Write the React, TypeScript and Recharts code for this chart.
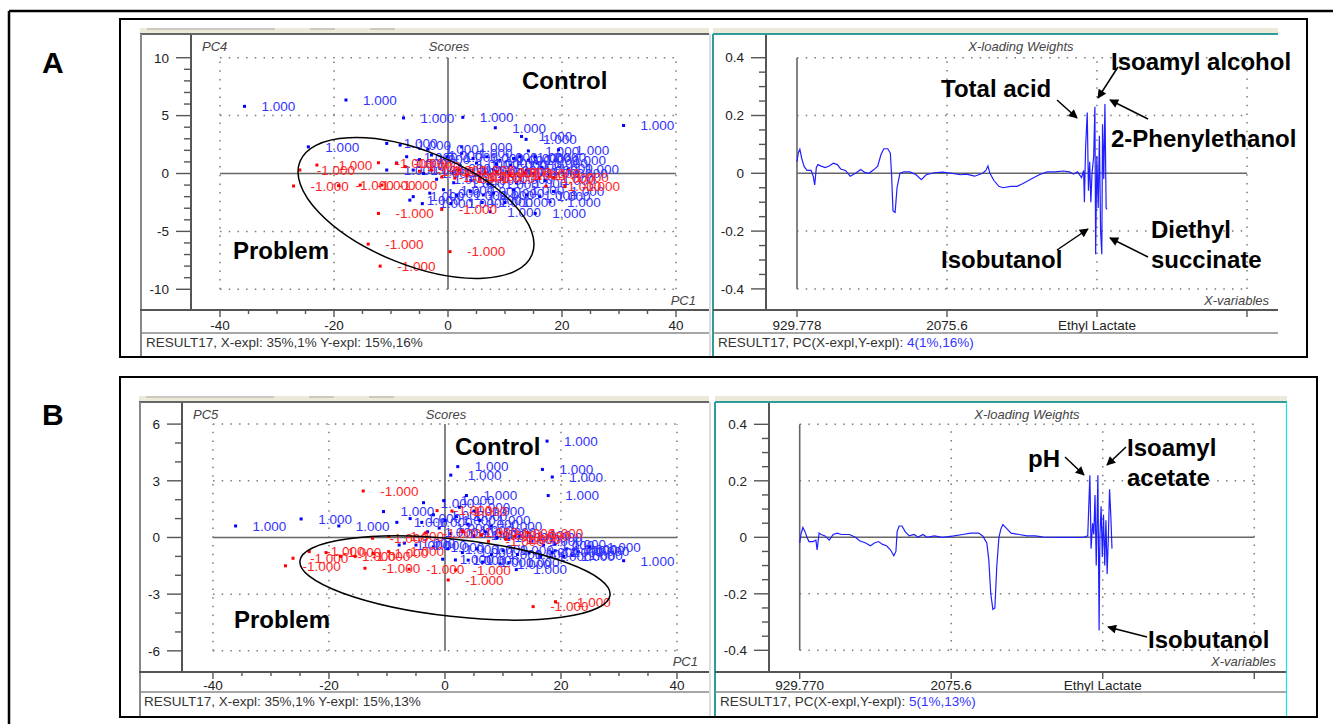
import React from 'react'
import { ScatterChart, Scatter, LineChart, Line, XAxis, YAxis, ReferenceLine } from 'recharts'

const FONT = '"Liberation Sans", Arial, Helvetica, sans-serif'

// --- scores A (PC1 vs PC4) ---
const scoresAControl = [
  { x: -35.7, y: 5.8 }, { x: -17.9, y: 6.35 }, { x: -7.8, y: 4.8 }, { x: 2.6, y: 4.85 }, { x: 8.3, y: 3.95 },
  { x: 12.9, y: 3.2 }, { x: 13.7, y: 2.95 }, { x: 30.8, y: 4.15 }, { x: -24.5, y: 2.3 }, { x: -10.75, y: 2.6 },
  { x: -8.4, y: 2.45 }, { x: 2.4, y: 2.3 }, { x: 14.1, y: 1.95 }, { x: 19.4, y: 2.05 }, { x: 18.8, y: 1.15 },
  { x: 21.1, y: 0.35 }, { x: 15.6, y: 0.9 }, { x: 19.1, y: 0.0 }, { x: 7.4, y: -3.3 }, { x: 15.3, y: -3.45 },
  { x: 17.9, y: -2.45 }, { x: -10.75, y: 0.3 }, { x: -9.0, y: 0.9 }, { x: -7.25, y: 1.45 }, { x: -6.7, y: -2.3 },
  { x: -6.1, y: -2.0 }, { x: -2.9, y: 1.6 }, { x: -0.2, y: 1.45 }, { x: 2.4, y: 1.75 }, { x: 4.4, y: 1.3 },
  { x: 6.8, y: 1.45 }, { x: 9.1, y: 1.15 }, { x: 11.5, y: 1.3 }, { x: 12.6, y: 1.45 }, { x: 14.1, y: 1.15 },
  { x: 15.3, y: 1.45 }, { x: -6.1, y: 0.3 }, { x: -4.3, y: 0.0 }, { x: -1.4, y: 0.45 }, { x: 0.9, y: 0.15 },
  { x: 3.3, y: 0.3 }, { x: 5.6, y: 0.0 }, { x: 8.0, y: 0.3 }, { x: 10.3, y: 0.15 }, { x: 13.8, y: 0.3 },
  { x: 15.0, y: 0.0 }, { x: -3.2, y: -1.7 }, { x: -0.8, y: -1.4 }, { x: 1.5, y: -1.85 }, { x: 3.9, y: -1.55 },
  { x: 6.2, y: -1.85 }, { x: 8.0, y: -1.7 }, { x: 11.5, y: -1.4 }, { x: 13.8, y: -1.85 }, { x: 16.1, y: -2.0 },
  { x: 18.5, y: -1.55 }, { x: 1.0, y: -0.8 }, { x: 4.0, y: -0.6 }, { x: 7.0, y: -0.9 }, { x: 9.5, y: -0.5 },
  { x: 12.0, y: -0.8 }, { x: 2.0, y: 0.8 }, { x: 5.0, y: 0.9 }, { x: 8.5, y: 0.8 }, { x: 11.0, y: 0.7 },
  { x: -2.0, y: -0.5 }, { x: 6.0, y: -2.5 }, { x: 4.0, y: -2.3 }, { x: 10.0, y: -2.5 }, { x: -4.5, y: -2.6 },
  { x: 0.5, y: -2.6 }, { x: -5.0, y: 1.2 }, { x: -3.5, y: 2.1 }, { x: 16.5, y: 0.5 }, { x: 17.0, y: -0.6 },
]
const scoresAProblem = [
  { x: -26.0, y: 0.3 }, { x: -23.0, y: 0.73 }, { x: -27.1, y: -1.08 }, { x: -19.2, y: -1.05 }, { x: -15.4, y: -1.0 },
  { x: -11.6, y: -1.0 }, { x: -12.2, y: 0.93 }, { x: -9.05, y: 0.88 }, { x: -12.2, y: -3.45 }, { x: -14.0, y: -6.1 },
  { x: -11.9, y: -8.0 }, { x: 0.35, y: -6.75 }, { x: -1.1, y: -3.1 }, { x: 17.2, y: -1.1 }, { x: 20.5, y: -1.1 },
  { x: 18.5, y: -0.35 }, { x: -7.5, y: 0.6 }, { x: -5.0, y: 0.2 }, { x: -2.9, y: 0.3 }, { x: -1.1, y: -0.3 },
  { x: 1.2, y: -0.4 }, { x: 2.0, y: 0.3 }, { x: 3.3, y: -0.2 }, { x: 5.6, y: -0.4 }, { x: 6.5, y: 0.1 },
  { x: 8.5, y: 0.15 }, { x: 10.9, y: -0.15 }, { x: 13.5, y: 0.05 }, { x: 16.0, y: -0.4 },
]

// --- scores B (PC1 vs PC5) ---
const scoresBControl = [
  { x: -36.1, y: 0.61 }, { x: -24.8, y: 0.98 }, { x: -18.3, y: 0.61 }, { x: -10.6, y: 1.37 }, { x: -8.3, y: 0.8 },
  { x: -3.7, y: 1.84 }, { x: -0.2, y: 1.95 }, { x: 2.2, y: 3.75 }, { x: 1.0, y: 3.3 }, { x: 17.6, y: 5.1 },
  { x: 16.8, y: 3.6 }, { x: 18.5, y: 3.2 }, { x: 17.8, y: 2.22 }, { x: 3.7, y: 2.22 }, { x: 30.8, y: -1.23 },
  { x: 12.3, y: -1.7 }, { x: 11.0, y: -1.33 }, { x: 22.2, y: -0.66 }, { x: 14.9, y: 0.04 }, { x: 19.0, y: -0.34 },
  { x: 21.9, y: -0.94 }, { x: 1.8, y: -1.19 }, { x: -0.4, y: -1.15 }, { x: -7.9, y: -0.4 }, { x: -6.0, y: 1.0 },
  { x: -4.0, y: 0.8 }, { x: -2.0, y: 1.2 }, { x: 0.0, y: 0.9 }, { x: 2.0, y: 1.1 }, { x: 4.0, y: 0.7 },
  { x: 6.0, y: 0.9 }, { x: 8.0, y: 0.6 }, { x: -3.0, y: 0.3 }, { x: -1.0, y: 0.5 }, { x: 1.0, y: 0.2 },
  { x: 3.0, y: 0.4 }, { x: 5.0, y: 0.1 }, { x: 7.0, y: 0.3 }, { x: 9.0, y: 0.0 }, { x: 11.0, y: -0.1 },
  { x: 13.0, y: 0.1 }, { x: 15.0, y: -0.2 }, { x: 17.0, y: -0.4 }, { x: 19.0, y: -0.7 }, { x: 21.0, y: -0.6 },
  { x: 23.0, y: -0.75 }, { x: 25.0, y: -0.5 }, { x: -5.0, y: -0.4 }, { x: -2.0, y: -0.5 }, { x: 0.5, y: -0.6 },
  { x: 3.0, y: -0.8 }, { x: 5.5, y: -0.6 }, { x: 8.0, y: -0.9 }, { x: 10.0, y: -0.7 }, { x: 12.5, y: -0.9 },
  { x: 14.5, y: -0.8 }, { x: 16.5, y: -1.0 }, { x: 18.5, y: -0.8 }, { x: 20.5, y: -1.0 }, { x: 6.5, y: -1.3 },
  { x: 9.5, y: -1.4 }, { x: 4.0, y: -1.2 }, { x: -7.0, y: -0.3 }, { x: 2.5, y: 1.6 }, { x: 5.0, y: 1.4 },
]
const scoresBProblem = [
  { x: -14.1, y: 2.46 }, { x: -1.36, y: 1.42 }, { x: 1.2, y: 1.4 }, { x: -27.5, y: -1.5 }, { x: -26.2, y: -1.1 },
  { x: -23.4, y: -0.75 }, { x: -20.5, y: -0.8 }, { x: -18.0, y: -1.0 }, { x: -15.5, y: -1.0 }, { x: -13.8, y: -1.63 },
  { x: -12.5, y: -0.04 }, { x: -12.4, y: -0.84 }, { x: -9.7, y: -0.75 }, { x: -6.2, y: -1.68 }, { x: 0.55, y: -2.25 },
  { x: 1.83, y: -1.72 }, { x: 15.2, y: -3.66 }, { x: 19.05, y: -3.4 }, { x: -9.7, y: 0.05 }, { x: -3.3, y: 0.25 },
  { x: 3.1, y: 0.3 }, { x: 6.3, y: 0.12 }, { x: 9.5, y: 0.25 }, { x: 12.0, y: 0.05 }, { x: 14.3, y: 0.25 },
  { x: 7.5, y: -0.2 }, { x: 10.5, y: -0.1 },
]

// --- x-loading weights (i = variable index, w = weight) ---
const loadingsA = [
  { i: 0, w: 0.04 }, { i: 0.8, w: 0.07 }, { i: 1.9, w: 0.083 }, { i: 3.2, w: 0.05 }, { i: 4.8, w: 0.023 },
  { i: 6.7, w: 0.01 }, { i: 9.4, w: 0.01 }, { i: 10.8, w: -0.01 }, { i: 11.8, w: -0.04 }, { i: 12.9, w: 0.02 },
  { i: 14, w: 0.03 }, { i: 16.1, w: 0.025 }, { i: 18.8, w: 0.02 }, { i: 21.5, w: 0.025 }, { i: 24.2, w: 0.035 },
  { i: 26.9, w: 0.03 }, { i: 29.1, w: 0.015 }, { i: 32.3, w: 0.01 }, { i: 35.5, w: -0.01 }, { i: 39, w: 0.0 },
  { i: 42.5, w: 0.013 }, { i: 45.2, w: 0.003 }, { i: 47.9, w: 0.0 }, { i: 51.1, w: 0.012 }, { i: 53.8, w: 0.025 },
  { i: 56, w: 0.065 }, { i: 57.9, w: 0.085 }, { i: 60.5, w: 0.085 }, { i: 62.2, w: 0.07 }, { i: 63, w: 0.0 },
  { i: 64, w: -0.13 }, { i: 65.4, w: -0.135 }, { i: 66.7, w: -0.05 }, { i: 68.6, w: 0.0 }, { i: 71.3, w: 0.005 },
  { i: 75.3, w: 0.005 }, { i: 79.4, w: -0.005 }, { i: 82.9, w: -0.022 }, { i: 86.1, w: -0.005 }, { i: 91.5, w: 0.002 },
  { i: 96.9, w: 0.004 }, { i: 103.6, w: 0.0 }, { i: 109, w: -0.005 }, { i: 113, w: -0.003 }, { i: 118.4, w: -0.01 },
  { i: 123.8, w: 0.0 }, { i: 125.9, w: 0.01 }, { i: 127.3, w: 0.025 }, { i: 128.6, w: 0.0 }, { i: 131.3, w: -0.025 },
  { i: 134.6, w: -0.045 }, { i: 137.2, w: -0.05 }, { i: 142.6, w: -0.045 }, { i: 146.7, w: -0.045 }, { i: 150.7, w: -0.035 },
  { i: 156.1, w: -0.02 }, { i: 161.5, w: -0.005 }, { i: 166.8, w: 0.005 }, { i: 172.2, w: 0.005 }, { i: 177.6, w: 0.008 },
  { i: 181.6, w: 0.005 }, { i: 184.3, w: -0.003 }, { i: 187, w: 0.005 }, { i: 189.7, w: -0.015 }, { i: 191.1, w: 0.01 },
  { i: 191.6, w: -0.1 }, { i: 192.4, w: 0.09 }, { i: 193.5, w: 0.21 }, { i: 194.3, w: -0.06 }, { i: 195.1, w: 0.04 },
  { i: 195.9, w: -0.1 }, { i: 196.7, w: 0.0 }, { i: 197.8, w: 0.06 }, { i: 198.6, w: 0.23 }, { i: 199.1, w: -0.28 },
  { i: 199.9, w: 0.06 }, { i: 200.8, w: -0.12 }, { i: 201.6, w: 0.13 }, { i: 202.4, w: -0.2 }, { i: 203.2, w: -0.28 },
  { i: 203.7, w: 0.17 }, { i: 204.5, w: -0.02 }, { i: 205.3, w: 0.24 }, { i: 206.1, w: -0.12 }, { i: 206.7, w: -0.125 },
]
const loadingsB = [
  { i: 0, w: -0.02 }, { i: 0.8, w: 0.01 }, { i: 2.1, w: 0.035 }, { i: 3.5, w: 0.02 }, { i: 4.8, w: 0.0 },
  { i: 6.1, w: -0.015 }, { i: 8.8, w: -0.015 }, { i: 10.7, w: -0.01 }, { i: 11.5, w: -0.045 }, { i: 12.8, w: 0.015 },
  { i: 14.1, w: 0.01 }, { i: 16.8, w: 0.005 }, { i: 19.5, w: -0.01 }, { i: 22.1, w: 0.01 }, { i: 24.8, w: 0.015 },
  { i: 27.5, w: 0.01 }, { i: 32.8, w: 0.01 }, { i: 36.8, w: 0.0 }, { i: 39.5, w: -0.012 }, { i: 43.5, w: -0.02 },
  { i: 46.7, w: -0.03 }, { i: 49.3, w: -0.02 }, { i: 52, w: -0.015 }, { i: 54.7, w: -0.025 }, { i: 57.3, w: -0.03 },
  { i: 60, w: -0.045 }, { i: 62.1, w: -0.065 }, { i: 63.5, w: -0.05 }, { i: 64.3, w: 0.02 }, { i: 65.6, w: 0.04 },
  { i: 67.5, w: 0.04 }, { i: 69.6, w: 0.02 }, { i: 72.3, w: 0.005 }, { i: 75.5, w: 0.01 }, { i: 78.1, w: 0.0 },
  { i: 81.3, w: 0.01 }, { i: 84, w: 0.0 }, { i: 88.8, w: 0.005 }, { i: 94.1, w: 0.0 }, { i: 100.8, w: 0.004 },
  { i: 107.5, w: 0.01 }, { i: 112.8, w: 0.015 }, { i: 118.1, w: 0.015 }, { i: 120.8, w: 0.005 }, { i: 123.5, w: -0.02 },
  { i: 124.8, w: -0.08 }, { i: 126.1, w: -0.2 }, { i: 127.5, w: -0.255 }, { i: 128.8, w: -0.25 }, { i: 130.1, w: -0.1 },
  { i: 131.5, w: 0.0 }, { i: 132.8, w: 0.03 }, { i: 134.1, w: 0.045 }, { i: 136.8, w: 0.03 }, { i: 139.5, w: 0.015 },
  { i: 144.8, w: 0.01 }, { i: 150.1, w: 0.005 }, { i: 155.5, w: 0.005 }, { i: 160.8, w: 0.001 }, { i: 174.1, w: 0.0 },
  { i: 187.5, w: 0.0 }, { i: 190.1, w: 0.005 }, { i: 191.5, w: 0.22 }, { i: 192.3, w: -0.04 }, { i: 193.3, w: 0.05 },
  { i: 194.1, w: 0.01 }, { i: 194.9, w: 0.15 }, { i: 195.7, w: -0.1 }, { i: 196.8, w: 0.22 }, { i: 197.6, w: -0.33 },
  { i: 198.1, w: 0.0 }, { i: 198.9, w: 0.11 }, { i: 199.7, w: -0.07 }, { i: 200.5, w: 0.08 }, { i: 201.3, w: -0.1 },
  { i: 202.1, w: 0.06 }, { i: 202.9, w: -0.13 }, { i: 203.7, w: 0.0 }, { i: 204.5, w: 0.17 }, { i: 205.3, w: 0.08 },
  { i: 206.1, w: -0.04 },
]

// ticks
const scoreXTicks = [-40, -35, -30, -25, -20, -15, -10, -5, 0, 5, 10, 15, 20, 25, 30, 35, 40]
const scoreAYTicks = [-10, -9, -8, -7, -6, -5, -4, -3, -2, -1, 0, 1, 2, 3, 4, 5, 6, 7, 8, 9, 10]
const scoreBYTicks = [-6, -5, -4, -3, -2, -1, 0, 1, 2, 3, 4, 5, 6]
const loadYTicks = [-0.4, -0.35, -0.3, -0.25, -0.2, -0.15, -0.1, -0.05, 0, 0.05, 0.1, 0.15, 0.2, 0.25, 0.3, 0.35, 0.4]
const loadXTicks = [0, 100, 200, 300]
const loadXLabelsA = ['929.778', '2075.6', 'Ethyl Lactate', '']
const loadXLabelsB = ['929.770', '2075.6', 'Ethyl Lactate', '']

const DOTS = '1.5 7.2'
const GRID = '#7a7a7a'
const AXIS = '#555'

function pointShape(dot: string, ink: string, text: string) {
  return (props: any) => {
    const { cx, cy } = props
    if (cx == null || cy == null) return <g />
    return (
      <g>
        <rect x={cx - 1.5} y={cy - 1.5} width={3} height={3} fill={dot} />
        <text x={cx + 17} y={cy + 4.8} fontSize={13.5} fill={ink} fontFamily={FONT}>{text}</text>
      </g>
    )
  }
}

function yTick(isMajor: (v: number) => boolean, fmt: (v: number) => string) {
  return (props: any) => {
    const { x, y, payload } = props
    const v = payload.value
    const major = isMajor(v)
    return (
      <g>
        <line x1={x - (major ? 15 : 7)} x2={x} y1={y} y2={y} stroke={AXIS} strokeWidth={1.4} />
        {major && (
          <text x={x - 22} y={y + 4.8} textAnchor="end" fontSize={13.5} fill="#222" fontFamily={FONT}>
            {fmt(v)}
          </text>
        )}
      </g>
    )
  }
}

function xTick(isMajor: (v: number) => boolean, fmt: (v: number) => string, dy: number) {
  return (props: any) => {
    const { x, y, payload } = props
    const v = payload.value
    const major = isMajor(v)
    return (
      <g>
        <line x1={x} x2={x} y1={y} y2={y + (major ? 7 : 4)} stroke={AXIS} strokeWidth={1.4} />
        {major && (
          <text x={x} y={y + dy} textAnchor="middle" fontSize={13.5} fill="#222" fontFamily={FONT}>
            {fmt(v)}
          </text>
        )}
      </g>
    )
  }
}

function gridLines(hs: number[], vs: number[], xr: [number, number], yr: [number, number], x0: number, y0: number) {
  const out: React.ReactNode[] = []
  hs.forEach((v, k) =>
    out.push(<ReferenceLine key={'h' + k} segment={[{ x: xr[0], y: v }, { x: xr[1], y: v }]} stroke={GRID} strokeWidth={1.5} strokeDasharray={DOTS} />)
  )
  vs.forEach((v, k) =>
    out.push(<ReferenceLine key={'v' + k} segment={[{ x: v, y: yr[0] }, { x: v, y: yr[1] }]} stroke={GRID} strokeWidth={1.5} strokeDasharray={DOTS} />)
  )
  out.push(<ReferenceLine key="z0" segment={[{ x: xr[0], y: y0 }, { x: xr[1], y: y0 }]} stroke="#666" strokeWidth={1.6} />)
  out.push(<ReferenceLine key="z1" segment={[{ x: x0, y: yr[0] }, { x: x0, y: yr[1] }]} stroke="#666" strokeWidth={1.6} />)
  return out
}

type ScoreProps = {
  left: number; top: number; width: number; height: number; yW: number; xH: number; labelDy: number
  xDomain: [number, number]; yDomain: [number, number]; yTicks: number[]; yStep: number; yLim: number
  control: { x: number; y: number }[]; problem: { x: number; y: number }[]
}

function ScoresPanel(p: ScoreProps) {
  return (
    <div style={{ position: 'absolute', left: p.left, top: p.top }}>
      <ScatterChart width={p.width} height={p.height} margin={{ top: 0, right: 0, bottom: 0, left: 0 }}>
        <XAxis type="number" dataKey="x" domain={p.xDomain} ticks={scoreXTicks} interval={0} allowDataOverflow
          axisLine={false} tickLine={false} tickSize={0} tickMargin={0} height={p.xH}
          tick={xTick((v) => v % 20 === 0, (v) => String(v), p.labelDy)} />
        <YAxis type="number" dataKey="y" domain={p.yDomain} ticks={p.yTicks} interval={0} allowDataOverflow
          axisLine={{ stroke: AXIS, strokeWidth: 2 }} tickLine={false} tickSize={0} tickMargin={0} width={p.yW}
          tick={yTick((v) => v % p.yStep === 0, (v) => String(v))} />
        {gridLines([p.yLim, p.yLim / 2, -p.yLim / 2, -p.yLim], [-40, -20, 20, 40], [-40, 40], [-p.yLim, p.yLim], 0, 0)}
        <Scatter data={p.control} isAnimationActive={false} shape={pointShape('#0000ff', '#3333ff', '1.000')} />
        <Scatter data={p.problem} isAnimationActive={false} shape={pointShape('#ff0000', '#ff2525', '-1.000')} />
      </ScatterChart>
    </div>
  )
}

type LoadProps = {
  left: number; top: number; width: number; height: number; yW: number; xH: number; labelDy: number
  xDomain: [number, number]; yDomain: [number, number]; labels: string[]; data: { i: number; w: number }[]
}

function LoadingPanel(p: LoadProps) {
  return (
    <div style={{ position: 'absolute', left: p.left, top: p.top }}>
      <LineChart data={p.data} width={p.width} height={p.height} margin={{ top: 0, right: 0, bottom: 0, left: 0 }}>
        <XAxis type="number" dataKey="i" domain={p.xDomain} ticks={loadXTicks} interval={0} allowDataOverflow
          axisLine={false} tickLine={false} tickSize={0} tickMargin={0} height={p.xH}
          tick={xTick(() => true, (v) => p.labels[loadXTicks.indexOf(v)], p.labelDy)} />
        <YAxis type="number" domain={p.yDomain} ticks={loadYTicks} interval={0} allowDataOverflow
          axisLine={{ stroke: AXIS, strokeWidth: 2 }} tickLine={false} tickSize={0} tickMargin={0} width={p.yW}
          tick={yTick((v) => Math.abs(v * 5 - Math.round(v * 5)) < 1e-6, (v) => (v === 0 ? '0' : v.toFixed(1)))} />
        {gridLines([0.4, 0.2, -0.2, -0.4], [100, 200, 300], [0, 300], [-0.4, 0.4], 0, 0)}
        <Line type="linear" dataKey="w" stroke="#1f1fff" strokeWidth={1.2} dot={false} isAnimationActive={false} />
      </LineChart>
    </div>
  )
}

function T(props: { x: number; y: number; children: React.ReactNode; size?: number; bold?: boolean; italic?: boolean; fill?: string; anchor?: string }) {
  return (
    <text x={props.x} y={props.y} fontSize={props.size ?? 13.5} fontWeight={props.bold ? 'bold' : 'normal'}
      fontStyle={props.italic ? 'italic' : 'normal'} fill={props.fill ?? '#222'} fontFamily={FONT}
      textAnchor={(props.anchor as any) ?? 'start'}>
      {props.children}
    </text>
  )
}

function Arrow({ x1, y1, x2, y2 }: { x1: number; y1: number; x2: number; y2: number }) {
  return <line x1={x1} y1={y1} x2={x2} y2={y2} stroke="#000" strokeWidth={1.5} markerEnd="url(#head)" />
}

function PanelFrames({ top, bottom, axisY, statusY, s, l }: any) {
  // s = scores [left, right], l = loading [left, right]
  return (
    <g>
      <rect x={s[0]} y={top - 6} width={s[1] - s[0]} height={5} fill="#ece9d8" />
      <rect x={l[0]} y={top - 6} width={l[1] - l[0]} height={5} fill="#ece9d8" />
      <line x1={s[0] + 7} x2={s[0] + 135} y1={top - 5} y2={top - 5} stroke="#aaa" strokeWidth={1} />
      <line x1={s[0] + 170} x2={s[0] + 195} y1={top - 5} y2={top - 5} stroke="#aaa" strokeWidth={1} />
      <line x1={s[0] + 230} x2={s[0] + 255} y1={top - 5} y2={top - 5} stroke="#aaa" strokeWidth={1} />
      <line x1={s[0]} x2={s[1]} y1={top} y2={top} stroke="#666" strokeWidth={2} />
      <line x1={s[0] + 1} x2={s[0] + 1} y1={top} y2={bottom} stroke="#888" strokeWidth={2} />
      <line x1={s[1] + 1} x2={s[1] + 1} y1={top} y2={bottom} stroke="#bbb" strokeWidth={1} />
      <line x1={s[0]} x2={s[1]} y1={axisY} y2={axisY} stroke={AXIS} strokeWidth={2} />
      <line x1={s[0]} x2={s[1]} y1={statusY} y2={statusY} stroke="#888" strokeWidth={1.5} />
      <line x1={l[0]} x2={l[1]} y1={top} y2={top} stroke="#2f9c9c" strokeWidth={2} />
      <line x1={l[0]} x2={l[0]} y1={top} y2={bottom} stroke="#2f9c9c" strokeWidth={2} />
      <line x1={l[0]} x2={l[1]} y1={axisY} y2={axisY} stroke={AXIS} strokeWidth={2} />
      <line x1={l[0]} x2={l[1]} y1={statusY} y2={statusY} stroke="#888" strokeWidth={1.5} />
    </g>
  )
}

export default function App() {
  return (
    <div style={{ position: 'absolute', left: 0, top: 0, width: 1333, height: 724, background: '#fff', overflow: 'hidden' }}>
      <ScoresPanel left={140} top={34} width={569} height={299} yW={51} xH={23} labelDy={19.8}
        xDomain={[-45.09, 45.79]} yDomain={[-11.79, 12.05]} yTicks={scoreAYTicks} yStep={5} yLim={10}
        control={scoresAControl} problem={scoresAProblem} />
      <LoadingPanel left={713} top={34} width={565} height={299} yW={53} xH={23} labelDy={19.8}
        xDomain={[-20.67, 320.67]} yDomain={[-0.473, 0.482]} labels={loadXLabelsA} data={loadingsA} />
      <ScoresPanel left={139} top={402} width={570} height={290} yW={43} xH={20} labelDy={18.1}
        xDomain={[-45.34, 45.52]} yDomain={[-7.12, 7.17]} yTicks={scoreBYTicks} yStep={3} yLim={6}
        control={scoresBControl} problem={scoresBProblem} />
      <LoadingPanel left={715} top={402} width={572} height={290} yW={54} xH={20} labelDy={17.8}
        xDomain={[-20.26, 321.6]} yDomain={[-0.4768, 0.479]} labels={loadXLabelsB} data={loadingsB} />

      <svg width={1333} height={724} style={{ position: 'absolute', left: 0, top: 0, pointerEvents: 'none' }}>
        <defs>
          <marker id="head" viewBox="0 0 10 10" refX="9" refY="5" markerWidth="7" markerHeight="6" orient="auto">
            <path d="M0,0 L10,5 L0,10 z" fill="#000" />
          </marker>
        </defs>

        {/* outer and inner boxes */}
        <line x1={9} x2={1340} y1={11} y2={11} stroke="#000" strokeWidth={2.5} />
        <line x1={9} x2={9} y1={11} y2={730} stroke="#000" strokeWidth={2.5} />
        <rect x={120} y={19} width={1187} height={338} fill="none" stroke="#000" strokeWidth={2} />
        <rect x={120} y={377} width={1197} height={340} fill="none" stroke="#000" strokeWidth={2} />
        <T x={42} y={73} size={30} bold fill="#000">A</T>
        <T x={42} y={425} size={30} bold fill="#000">B</T>

        <PanelFrames top={34} bottom={356} axisY={310} statusY={333} s={[140, 709]} l={[713, 1278]} />
        <PanelFrames top={402} bottom={716} axisY={672} statusY={692} s={[139, 709]} l={[715, 1287]} />
        <line x1={1286.5} x2={1286.5} y1={402} y2={716} stroke="#22e0e0" strokeWidth={1.2} />

        {/* panel titles */}
        <T x={202} y={51} size={13} italic fill="#444">PC4</T>
        <T x={449} y={51} size={13} italic fill="#444" anchor="middle">Scores</T>
        <T x={696} y={304.5} size={13} italic fill="#444" anchor="end">PC1</T>
        <T x={1021} y={51} size={13} italic fill="#444" anchor="middle">X-loading Weights</T>
        <T x={1269} y={304.5} size={13} italic fill="#444" anchor="end">X-variables</T>
        <T x={193} y={418.5} size={13} italic fill="#444">PC5</T>
        <T x={446} y={418.5} size={13} italic fill="#444" anchor="middle">Scores</T>
        <T x={698} y={665.5} size={13} italic fill="#444" anchor="end">PC1</T>
        <T x={1027} y={418.5} size={13} italic fill="#444" anchor="middle">X-loading Weights</T>
        <T x={1276} y={665.5} size={13} italic fill="#444" anchor="end">X-variables</T>

        {/* status bars */}
        <T x={146} y={346.5} fill="#333">RESULT17, X-expl: 35%,1%  Y-expl: 15%,16%</T>
        <T x={718} y={346.5} fill="#333">RESULT17, PC(X-expl,Y-expl): <tspan fill="#3333ff">4(1%,16%)</tspan></T>
        <T x={144} y={706} fill="#333">RESULT17, X-expl: 35%,1%  Y-expl: 15%,13%</T>
        <T x={720} y={706} fill="#333">RESULT17, PC(X-expl,Y-expl): <tspan fill="#3333ff">5(1%,13%)</tspan></T>

        {/* group annotations */}
        <ellipse cx={416} cy={208} rx={125} ry={57} fill="none" stroke="#000" strokeWidth={1.5} transform="rotate(21.8 416 208)" />
        <ellipse cx={455} cy={578} rx={156} ry={38.6} fill="none" stroke="#000" strokeWidth={1.5} transform="rotate(6.3 455 578)" />
        <T x={522} y={89} size={24} bold fill="#000">Control</T>
        <T x={233} y={259} size={24} bold fill="#000">Problem</T>
        <T x={455} y={455} size={24} bold fill="#000">Control</T>
        <T x={234} y={628} size={24} bold fill="#000">Problem</T>

        {/* variable annotations A */}
        <T x={941} y={96.7} size={24} bold fill="#000">Total acid</T>
        <T x={1111} y={69.5} size={24} bold fill="#000">Isoamyl alcohol</T>
        <T x={1111} y={147} size={24} bold fill="#000">2-Phenylethanol</T>
        <T x={941} y={268.3} size={24} bold fill="#000">Isobutanol</T>
        <T x={1151} y={238.3} size={24} bold fill="#000">Diethyl</T>
        <T x={1151} y={268.3} size={24} bold fill="#000">succinate</T>
        <Arrow x1={1057} y1={100} x2={1077} y2={118} />
        <Arrow x1={1118} y1={67} x2={1098} y2={98} />
        <Arrow x1={1148} y1={119} x2={1110} y2={100} />
        <Arrow x1={1057} y1={250} x2={1088} y2={229} />
        <Arrow x1={1148} y1={257} x2={1110} y2={238} />

        {/* variable annotations B */}
        <T x={1028} y={467} size={24} bold fill="#000">pH</T>
        <T x={1127} y={456} size={24} bold fill="#000">Isoamyl</T>
        <T x={1127} y={486} size={24} bold fill="#000">acetate</T>
        <T x={1148} y={648.3} size={24} bold fill="#000">Isobutanol</T>
        <Arrow x1={1065} y1={457} x2={1084} y2={475} />
        <Arrow x1={1126} y1={447} x2={1107} y2={465} />
        <Arrow x1={1147} y1={637} x2={1108} y2={627} />
      </svg>
    </div>
  )
}
